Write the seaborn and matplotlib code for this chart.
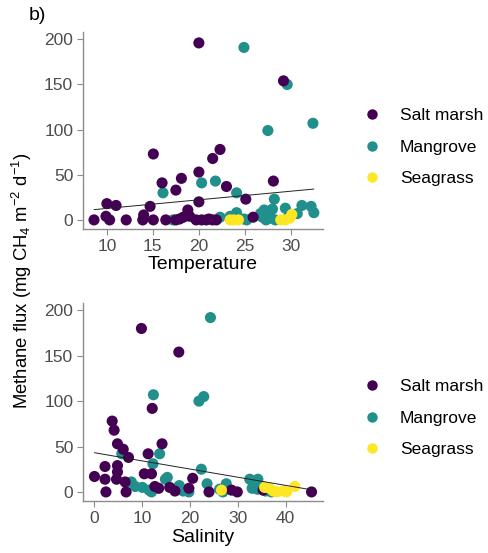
import matplotlib
matplotlib.use("Agg")
import matplotlib.pyplot as plt
from matplotlib.lines import Line2D
import numpy as np
import pandas as pd
import seaborn as sns

# ---- Methane flux vs temperature ----
temp_saltmarsh = [20.0, 29.2, 15.05, 22.3, 21.5, 20.0, 18.1, 16.0, 17.5, 23.0, 28.1, 25.1,
                  20.0, 10.0, 11.0, 14.7, 18.8, 19.0, 9.9, 14.0, 8.6, 10.3, 12.1, 13.9,
                  15.05, 16.4, 17.5, 17.9, 18.3, 19.7, 20.3, 20.8, 21.1, 21.5, 21.9, 25.9]
flux_t_saltmarsh = [196, 154, 73, 78, 68, 53, 46, 41, 33, 37, 43, 23,
                    20, 18, 16, 15, 11, 4, 4, 5.5, 0, 0, 0, 0,
                    0, 0, 0, 1, 3, 0, 0, 0, 1, 0, 0, 3]

temp_mangrove = [24.9, 29.6, 32.4, 27.5, 20.3, 21.8, 16.1, 24.1, 28.2, 29.4, 31.2, 32.2,
                 32.5, 22.3, 23.4, 24.1, 24.9, 25.2, 26.7, 27.1, 27.3, 27.5, 27.7, 27.8,
                 28.0, 26.9, 28.3, 29.8, 30.7, 17.2]
flux_t_mangrove = [191, 150, 107, 99, 41, 43, 30, 30, 23, 13, 16, 15,
                   8, 3, 4, 8, 1, 0, 7, 11, 0, 5, 7, 2,
                   12, 3, 0, 5, 7, 0]

temp_seagrass = [23.4, 23.8, 24.3, 28.9, 29.4, 29.9, 30.1]
flux_t_seagrass = [0, 0, 0, 0, 0, 2, 6]

# ---- Methane flux vs salinity ----
sal_saltmarsh = [9.9, 17.7, 12.15, 3.8, 4.2, 4.9, 14.2, 6.1, 7.2, 11.3, 0.1, 2.3,
                 4.9, 2.3, 4.9, 4.7, 6.5, 2.5, 6.7, 10.5, 12.0, 12.7, 13.5, 15.8,
                 16.9, 19.8, 20.6, 24.0, 28.7, 29.9, 35.3, 45.4]
flux_s_saltmarsh = [180, 154, 92, 78, 68, 53, 53, 47, 38, 42, 17, 28,
                    29, 14, 22, 14, 11, 0, 0, 20, 20, 6, 4, 5,
                    1, 4, 15, 0, 2, 0, 2, 0]

sal_mangrove = [24.3, 21.9, 22.9, 12.4, 13.7, 5.8, 12.3, 22.4, 14.9, 15.3, 7.8, 8.6,
                10.1, 11.5, 12.0, 17.8, 18.6, 19.8, 23.6, 27.6, 26.2, 26.9, 27.4, 32.5,
                34.2, 33.0, 34.1, 35.8, 37.0, 36.2]
flux_s_mangrove = [192, 100, 105, 107, 42, 42, 31, 25, 14, 16, 11, 6,
                   5, 2, 0, 7, 1, 0, 9, 9, 3, 0, 4, 14,
                   14, 4, 3, 1, 0, 3]

sal_seagrass = [26.6, 35.6, 37.4, 38.2, 39.5, 40.2, 41.9, 36.6]
flux_s_seagrass = [2, 5, 1, 0, 1, 0, 6, 4]

habitats = ["Salt marsh", "Mangrove", "Seagrass"]
palette = {"Salt marsh": "#440154", "Mangrove": "#21908C", "Seagrass": "#FDE725"}


def frame(xname, groups):
    parts = []
    for hab, xs, ys in groups:
        parts.append(pd.DataFrame({xname: xs, "flux": ys, "habitat": hab}))
    return pd.concat(parts, ignore_index=True)


# drawing order: mangrove underneath, seagrass on top
df_temp = frame("Temperature", [("Mangrove", temp_mangrove, flux_t_mangrove),
                                ("Salt marsh", temp_saltmarsh, flux_t_saltmarsh),
                                ("Seagrass", temp_seagrass, flux_t_seagrass)])
df_sal = frame("Salinity", [("Mangrove", sal_mangrove, flux_s_mangrove),
                            ("Salt marsh", sal_saltmarsh, flux_s_saltmarsh),
                            ("Seagrass", sal_seagrass, flux_s_seagrass)])

sns.set_theme(style="white")
plt.rcParams["font.family"] = ["Liberation Sans", "DejaVu Sans"]
plt.rcParams["text.color"] = "black"
plt.rcParams["mathtext.fontset"] = "custom"
plt.rcParams["mathtext.rm"] = "Liberation Sans"
plt.rcParams["mathtext.it"] = "Liberation Sans:italic"

fig = plt.figure(figsize=(4.88, 5.53), dpi=100)
ax1 = fig.add_axes([0.170, 0.586, 0.492, 0.356])
ax2 = fig.add_axes([0.170, 0.094, 0.492, 0.358])

axis_grey = "#8c8c8c"
label_grey = "#4d4d4d"


def draw_panel(ax, df, xcol, xlim, xticks):
    sns.scatterplot(data=df, x=xcol, y="flux", hue="habitat", palette=palette,
                    s=64, linewidth=0, alpha=1, legend=False, ax=ax, zorder=2)
    sns.regplot(data=df, x=xcol, y="flux", scatter=False, ci=None, truncate=True,
                line_kws=dict(color="#222222", lw=0.7), ax=ax)
    ax.set_xlim(*xlim)
    ax.set_ylim(-10, 208)
    ax.set_xticks(xticks)
    ax.set_yticks([0, 50, 100, 150, 200])
    ax.set_ylabel("")
    ax.set_xlabel(xcol, fontsize=14, color="black", labelpad=2)
    for side in ("top", "right"):
        ax.spines[side].set_visible(False)
    for side in ("left", "bottom"):
        ax.spines[side].set_color(axis_grey)
        ax.spines[side].set_linewidth(1.0)
    ax.tick_params(axis="both", which="major", direction="out", length=4, width=0.8,
                   color=axis_grey, labelcolor=label_grey, labelsize=12.5, pad=3,
                   bottom=True, left=True)
    ax.grid(False)


draw_panel(ax1, df_temp, "Temperature", (7.4, 33.5), [10, 15, 20, 25, 30])
draw_panel(ax2, df_sal, "Salinity", (-2.3, 47.8), [0, 10, 20, 30, 40])

handles = [Line2D([0], [0], marker="o", linestyle="", markersize=7.5,
                  markerfacecolor=palette[h], markeredgewidth=0, label=h)
           for h in habitats]
for ycenter in (0.734, 0.244):
    fig.legend(handles=handles, loc="center left", bbox_to_anchor=(0.745, ycenter),
               frameon=False, fontsize=12.5, handlelength=1.0, handletextpad=1.1,
               labelspacing=0.95, borderpad=0, borderaxespad=0, labelcolor="black")

fig.text(0.045, 0.492, r"Methane flux (mg CH$_4$ m$^{-2}$ d$^{-1}$)", rotation=90,
         ha="center", va="center", fontsize=13.3, color="black")
fig.text(0.058, 0.972, "b)", ha="left", va="center", fontsize=14, color="black")

fig.savefig("out.png", dpi=100, facecolor="white")
